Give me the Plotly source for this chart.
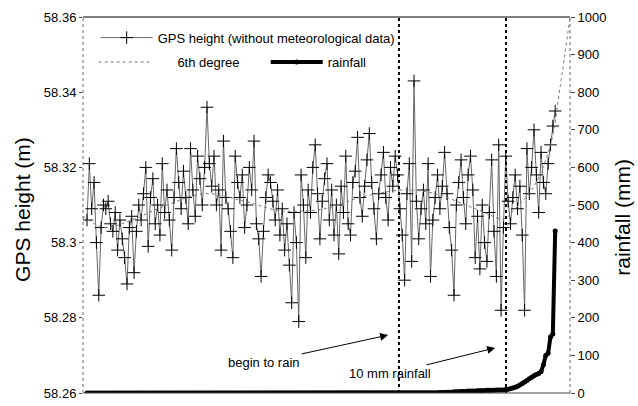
import plotly.graph_objects as go

# ---------------- data ----------------
gps_idx = list(range(1, 201))
gps_height = [
    58.306, 58.321, 58.309, 58.316, 58.300, 58.286, 58.304, 58.310, 58.309, 58.311,
    58.305, 58.303, 58.308, 58.298, 58.306, 58.301, 58.296, 58.289, 58.304, 58.307,
    58.292, 58.303, 58.310, 58.306, 58.313, 58.320, 58.299, 58.312, 58.317, 58.305,
    58.310, 58.302, 58.321, 58.308, 58.314, 58.306, 58.298, 58.312, 58.325, 58.316,
    58.309, 58.319, 58.312, 58.305, 58.325, 58.314, 58.307, 58.323, 58.317, 58.310,
    58.320, 58.336, 58.321, 58.315, 58.323, 58.310, 58.314, 58.298, 58.327, 58.312,
    58.309, 58.303, 58.296, 58.323, 58.316, 58.312, 58.318, 58.304, 58.310, 58.320,
    58.314, 58.327, 58.305, 58.301, 58.291, 58.303, 58.312, 58.318, 58.316, 58.311,
    58.306, 58.314, 58.302, 58.309, 58.298, 58.305, 58.294, 58.284, 58.308, 58.300,
    58.279, 58.318, 58.310, 58.296, 58.314, 58.308, 58.320, 58.326, 58.313, 58.301,
    58.311, 58.317, 58.321, 58.306, 58.314, 58.302, 58.310, 58.297, 58.315, 58.308,
    58.323, 58.305, 58.302, 58.316, 58.319, 58.328, 58.312, 58.307, 58.315, 58.322,
    58.329, 58.316, 58.309, 58.301, 58.313, 58.318, 58.324, 58.312, 58.306, 58.320,
    58.315, 58.323, 58.318, 58.309, 58.302, 58.290, 58.313, 58.321, 58.295, 58.343,
    58.311, 58.301, 58.309, 58.314, 58.305, 58.321, 58.291, 58.306, 58.312, 58.318,
    58.309, 58.315, 58.324, 58.313, 58.304, 58.298, 58.286, 58.310, 58.316, 58.322,
    58.312, 58.305, 58.318, 58.323, 58.314, 58.296, 58.307, 58.293, 58.310, 58.300,
    58.295, 58.308, 58.322, 58.303, 58.291, 58.326, 58.282, 58.304, 58.323, 58.311,
    58.305, 58.312, 58.318, 58.309, 58.315, 58.302, 58.282, 58.325, 58.313, 58.320,
    58.330, 58.318, 58.308, 58.324, 58.316, 58.313, 58.321, 58.326, 58.331, 58.335,
]

fit_idx = [-0.7, 8.6, 20, 35, 51, 68, 83, 102, 117, 136, 149, 162, 170, 178, 183, 191, 198, 202, 206.3]
fit_height = [58.307, 58.304, 58.306, 58.310, 58.313, 58.311, 58.3085, 58.309, 58.312, 58.314,
              58.313, 58.310, 58.308, 58.3063, 58.309, 58.315, 58.326, 58.341, 58.36]

rain_idx = list(range(1, 201))
rain_mm = ([0] * 150
           + [1, 1, 1, 2, 2, 2, 3, 3, 3, 4, 4, 4, 5, 5, 5, 5, 6, 6, 6, 6, 7, 7, 7, 7, 8, 8, 8, 8, 9]
           + [10, 11, 13, 15, 18, 21, 25, 29, 33, 38, 42, 46, 49, 52, 57, 75, 100, 106, 149, 157, 431])

rain_start_idx = 133.6
rain_10mm_idx = 179.1

x_range = [-0.7, 206.3]
left_ticks = [58.26, 58.28, 58.30, 58.32, 58.34, 58.36]
left_ticktext = ["58.26", "58.28", "58.3", "58.32", "58.34", "58.36"]
right_ticks = list(range(0, 1001, 100))

FONT = "Arial, 'Liberation Sans', sans-serif"
NB = "\u00a0"

fig = go.Figure()

fig.add_trace(go.Scatter(
    x=gps_idx, y=gps_height, mode="lines+markers",
    name="GPS height (without meteorological data)",
    line=dict(color="#666666", width=1),
    marker=dict(symbol="cross-thin", size=9, line=dict(color="black", width=1), color="black"),
    legend="legend",
))
fig.add_trace(go.Scatter(
    x=fit_idx, y=fit_height, mode="lines", name=NB * 6 + "6th degree",
    line=dict(color="#777777", width=1, dash="dot", shape="spline"),
    legend="legend2",
))
fig.add_trace(go.Scatter(
    x=rain_idx, y=rain_mm, mode="lines+markers", name="rainfall", yaxis="y2",
    line=dict(color="black", width=4),
    marker=dict(symbol="circle", size=5, color="black"),
    legend="legend2",
))

# event lines
for xv in (rain_start_idx, rain_10mm_idx):
    fig.add_shape(type="line", xref="x", yref="paper", x0=xv, x1=xv, y0=0, y1=1,
                  line=dict(color="black", width=2, dash="dot"))

# frame
fig.add_shape(type="line", xref="paper", yref="paper", x0=0, x1=1, y0=1, y1=1,
              line=dict(color="black", width=1))
fig.add_shape(type="line", xref="paper", yref="paper", x0=0, x1=1, y0=0, y1=0,
              line=dict(color="#444444", width=1))
for xv in (0, 1):
    fig.add_shape(type="line", xref="paper", yref="paper", x0=xv, x1=xv, y0=0, y1=1,
                  line=dict(color="#666666", width=1, dash="dot"))

fig.add_annotation(x=129.0, y=58.2754, xref="x", yref="y", text="begin to rain",
                   ax=-124, ay=27, showarrow=True, arrowhead=2, arrowsize=1.6, arrowwidth=1,
                   arrowcolor="black", font=dict(family=FONT, size=13, color="black"))
fig.add_annotation(x=174.5, y=58.272, xref="x", yref="y", text="10 mm rainfall",
                   ax=-105, ay=26, showarrow=True, arrowhead=2, arrowsize=1.6, arrowwidth=1,
                   arrowcolor="black", font=dict(family=FONT, size=13, color="black"))

# axis titles
fig.add_annotation(x=0, y=0.487, xref="paper", yref="paper", xanchor="center", yanchor="middle",
                   xshift=-60, text="GPS height (m)", textangle=-90, showarrow=False,
                   font=dict(family=FONT, size=21, color="black"))
fig.add_annotation(x=1, y=0.466, xref="paper", yref="paper", xanchor="center", yanchor="middle",
                   xshift=53, text="rainfall (mm)", textangle=-90, showarrow=False,
                   font=dict(family=FONT, size=21, color="black"))

fig.update_layout(
    width=638, height=406,
    margin=dict(l=83, r=68, t=17, b=5),
    paper_bgcolor="white", plot_bgcolor="white",
    font=dict(family=FONT, size=13, color="black"),
    xaxis=dict(range=x_range, showticklabels=False, ticks="", showgrid=False,
               zeroline=False, showline=False),
    yaxis=dict(range=[58.26, 58.36], tickvals=left_ticks, ticktext=left_ticktext,
               ticks="outside", ticklen=3, tickcolor="#444", showgrid=False, zeroline=False,
               showline=False, ticklabeloverflow="allow"),
    yaxis2=dict(range=[0, 1000], tickvals=right_ticks, overlaying="y", side="right",
                ticks="outside", ticklen=4, tickcolor="#444", showgrid=False, zeroline=False,
                showline=False, ticklabeloverflow="allow"),
    legend=dict(x=0.026, y=0.985, xanchor="left", yanchor="top", bgcolor="rgba(0,0,0,0)",
                font=dict(size=13), itemwidth=52),
    legend2=dict(x=0.022, y=0.92, xanchor="left", yanchor="top", orientation="h",
                 bgcolor="rgba(0,0,0,0)", font=dict(size=13), itemwidth=52,
                 entrywidth=105, entrywidthmode="pixels"),
    showlegend=True,
)

fig.write_html("out.html")
